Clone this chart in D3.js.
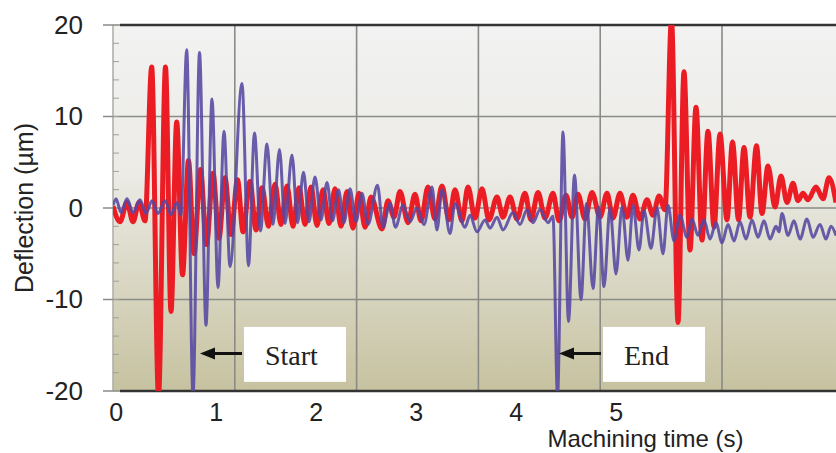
<!DOCTYPE html>
<html>
<head>
<meta charset="utf-8">
<script src="https://cdn.jsdelivr.net/npm/d3@7"></script>
<style>
  html, body { margin: 0; padding: 0; background: #ffffff; }
  svg { display: block; }
</style>
</head>
<body>
<svg id="chart" width="836" height="453"></svg>
<script>
// ---- axis ticks ----
const yTickValues = [-20, -10, 0, 10, 20];
const xTickValues = [0, 1, 2, 3, 4, 5];
const gridDivisions = [0, 1, 2, 3, 4, 5];

// ---- deflection traces: [machining time (s), deflection (µm)] ----
const redTrace = [
  [-0.028, 0.2], [0.042, -1.5], [0.112, 0.6], [0.172, -1.5], [0.232, 0.6], [0.292, -1.4],
  [0.359, 15.4], [0.427, -20.6], [0.497, 15.4], [0.552, -11.3], [0.609, 9.4], [0.667, -7.3],
  [0.727, 5.2], [0.782, -5.0], [0.847, 4.2], [0.907, -4.0], [0.972, 3.8], [1.032, -3.3],
  [1.092, 3.3], [1.152, -2.9], [1.217, 3.1], [1.272, -2.6], [1.342, 2.9], [1.402, -2.4],
  [1.462, 2.2], [1.527, -2.0], [1.592, 2.6], [1.652, -1.8], [1.712, 2.4], [1.772, -2.0],
  [1.832, 2.2], [1.892, -1.8], [1.952, 2.3], [2.012, -1.9], [2.072, 2.0], [2.132, -1.7],
  [2.192, 2.1], [2.252, -2.0], [2.312, 1.8], [2.372, -2.2], [2.432, 1.6], [2.492, -2.1],
  [2.552, 1.2], [2.662, -2.3], [2.722, 0.8], [2.782, -1.0], [2.842, 1.8], [2.922, -1.6],
  [2.992, 1.5], [3.052, -1.4], [3.122, 2.3], [3.192, -1.2], [3.262, 2.4], [3.332, -1.3],
  [3.392, 2.0], [3.462, -1.4], [3.522, 2.3], [3.592, -1.1], [3.662, 2.1], [3.732, -1.3],
  [3.812, 1.2], [3.872, -1.0], [3.942, 1.2], [4.012, -1.2], [4.092, 1.6], [4.152, -1.3],
  [4.222, 1.7], [4.292, -1.1], [4.372, 1.6], [4.432, -1.4], [4.502, 1.4], [4.562, -1.0],
  [4.622, 1.5], [4.692, -1.2], [4.762, 1.7], [4.842, -1.0], [4.912, 1.6], [4.972, -1.1],
  [5.042, 1.6], [5.112, -1.0], [5.172, 1.4], [5.242, -1.2], [5.312, 0.9], [5.372, -0.8],
  [5.432, 1.3], [5.492, -0.2], [5.557, 20.6], [5.622, -12.5], [5.682, 14.9], [5.742, -4.6],
  [5.802, 11.0], [5.862, -3.5], [5.922, 8.4], [5.982, -2.1], [6.042, 8.1], [6.112, -1.3],
  [6.167, 7.2], [6.227, -1.3], [6.282, 6.6], [6.342, -1.0], [6.407, 6.8], [6.462, -0.6],
  [6.522, 4.6], [6.592, 0.1], [6.652, 3.5], [6.712, 0.6], [6.772, 2.7], [6.822, 0.8],
  [6.872, 1.6], [6.922, 0.9], [7.002, 2.3], [7.072, 1.0], [7.132, 3.3], [7.202, 0.6]
];

const blueTrace = [
  [-0.028, 0.3], [0.002, 1.0], [0.052, -0.5], [0.112, 1.0], [0.172, -0.5], [0.242, 0.9],
  [0.302, -0.6], [0.362, 0.8], [0.422, -0.6], [0.492, 0.8], [0.552, -0.7], [0.612, 0.6],
  [0.652, -0.8], [0.709, 17.3], [0.772, -20.6], [0.837, 17.0], [0.902, -12.8], [0.962, 11.9],
  [1.022, -8.7], [1.082, 8.4], [1.142, -6.4], [1.262, 13.6], [1.327, -6.3], [1.387, 8.2],
  [1.447, -2.5], [1.512, 7.0], [1.572, -1.8], [1.637, 6.4], [1.692, -1.7], [1.762, 5.8],
  [1.817, -1.6], [1.877, 3.9], [1.932, -1.5], [1.992, 3.4], [2.052, -1.3], [2.112, 2.8],
  [2.167, -1.4], [2.227, 2.0], [2.282, -1.6], [2.342, 2.1], [2.402, -1.5], [2.462, 1.6],
  [2.522, -1.8], [2.617, 2.5], [2.672, -2.1], [2.742, 0.5], [2.797, -2.1], [2.872, 0.3],
  [2.942, -1.5], [3.012, 0.0], [3.082, -1.8], [3.162, 2.3], [3.212, -2.4], [3.262, 2.0],
  [3.342, -2.8], [3.392, 0.5], [3.492, -2.1], [3.542, -0.8], [3.612, -2.6], [3.692, -1.3],
  [3.742, -2.2], [3.812, -1.0], [3.872, -2.4], [3.972, -0.5], [4.042, -1.8], [4.112, -0.2],
  [4.172, -1.6], [4.242, -0.2], [4.322, -1.6], [4.372, -0.9], [4.417, -20.6], [4.472, 8.3],
  [4.527, -12.4], [4.587, 3.6], [4.652, -10.0], [4.707, 0.5], [4.772, -8.8], [4.827, 0.1],
  [4.882, -8.6], [4.942, 0.0], [5.002, -7.2], [5.062, 0.1], [5.122, -5.7], [5.172, 0.3],
  [5.232, -4.6], [5.282, -0.3], [5.352, -4.4], [5.412, 0.0], [5.472, -5.0], [5.522, 0.3],
  [5.582, -3.6], [5.642, -0.8], [5.712, -3.2], [5.762, -1.2], [5.822, -3.0], [5.882, -1.3],
  [5.942, -3.4], [6.002, -1.6], [6.062, -3.8], [6.122, -1.8], [6.182, -3.6], [6.242, -1.5],
  [6.302, -3.4], [6.362, -1.3], [6.422, -3.2], [6.482, -1.4], [6.542, -3.4], [6.602, -2.0],
  [6.632, -2.6], [6.662, -0.6], [6.722, -3.0], [6.782, -1.4], [6.842, -3.4], [6.912, -1.2],
  [6.972, -3.2], [7.042, -1.8], [7.102, -3.4], [7.152, -2.0], [7.202, -3.0]
];

// ---- event markers (time of the spike they point at) ----
const markers = [
  { label: "Start", time: 0.842 },
  { label: "End", time: 4.432 }
];

// ---- layout ----
const plot = { left: 113, top: 25, right: 836, bottom: 391 };
const svg = d3.select("#chart");

const x = d3.scaleLinear().domain([0, 5]).range([115.8, 615.8]);
const y = d3.scaleLinear().domain([-20, 20]).range([plot.bottom, plot.top]);
const grid = d3.scaleLinear().domain([0, 6]).range([plot.left, plot.left + 6 * 121.8]);

const defs = svg.append("defs");
const bg = defs.append("linearGradient")
  .attr("id", "plotBg").attr("x1", 0).attr("y1", 0).attr("x2", 0).attr("y2", 1);
bg.append("stop").attr("offset", "0%").attr("stop-color", "#f2f2f2");
bg.append("stop").attr("offset", "40%").attr("stop-color", "#ecebe6");
bg.append("stop").attr("offset", "100%").attr("stop-color", "#c6c2a0");

defs.append("clipPath").attr("id", "plotClip")
  .append("rect")
  .attr("x", plot.left).attr("y", plot.top)
  .attr("width", plot.right - plot.left).attr("height", plot.bottom - plot.top);

// plot background
svg.append("rect")
  .attr("x", plot.left).attr("y", plot.top)
  .attr("width", plot.right - plot.left).attr("height", plot.bottom - plot.top)
  .attr("fill", "url(#plotBg)");

// vertical grid lines
svg.append("g").selectAll("line")
  .data(gridDivisions)
  .join("line")
  .attr("x1", d => grid(d)).attr("x2", d => grid(d))
  .attr("y1", plot.top).attr("y2", plot.bottom)
  .attr("stroke", d => d === 0 ? "#b0b0aa" : "#8a8a86")
  .attr("stroke-width", 1.6);

// horizontal grid lines, extended out past the left edge as ticks
svg.append("g").selectAll("line")
  .data(yTickValues)
  .join("line")
  .attr("x1", plot.left - 10).attr("x2", plot.right)
  .attr("y1", d => y(d)).attr("y2", d => y(d))
  .attr("stroke", "#8a8a86")
  .attr("stroke-width", 1.6);

// minor ticks along the inside of the left edge
svg.append("g").selectAll("line")
  .data(y.ticks(20))
  .join("line")
  .attr("x1", plot.left).attr("x2", plot.left + 6)
  .attr("y1", d => y(d)).attr("y2", d => y(d))
  .attr("stroke", "#a0a09a")
  .attr("stroke-width", 1);

// top and bottom frame
svg.append("g").selectAll("line")
  .data(d3.extent(yTickValues))
  .join("line")
  .attr("x1", plot.left + 7).attr("x2", plot.right)
  .attr("y1", d => y(d)).attr("y2", d => y(d))
  .attr("stroke", "#333333")
  .attr("stroke-width", 2.6);

// traces
const line = d3.line()
  .x(d => x(d[0]))
  .y(d => y(d[1]))
  .curve(d3.curveMonotoneX);

const traces = svg.append("g").attr("clip-path", "url(#plotClip)");
traces.append("path")
  .datum(redTrace)
  .attr("d", line)
  .attr("fill", "none")
  .attr("stroke", "#ec1c24")
  .attr("stroke-width", 5)
  .attr("stroke-linejoin", "round");
traces.append("path")
  .datum(blueTrace)
  .attr("d", line)
  .attr("fill", "none")
  .attr("stroke", "#5548a2")
  .attr("stroke-opacity", 0.88)
  .attr("stroke-width", 3)
  .attr("stroke-linejoin", "round");

// y axis labels (plain hyphen for negatives)
const yAxis = svg.append("g")
  .attr("transform", `translate(${plot.left},0)`)
  .call(d3.axisLeft(y).tickValues(yTickValues).tickSize(0).tickPadding(30).tickFormat(d => String(d)));
yAxis.select(".domain").remove();
yAxis.selectAll("text")
  .attr("font-family", "'Liberation Sans', Arial, sans-serif")
  .attr("font-size", 26)
  .attr("fill", "#222");

// x axis labels
const xAxis = svg.append("g")
  .attr("transform", `translate(0,${plot.bottom})`)
  .call(d3.axisBottom(x).tickValues(xTickValues).tickSize(0).tickPadding(12).tickFormat(d => String(d)));
xAxis.select(".domain").remove();
xAxis.selectAll("text")
  .attr("font-family", "'Liberation Sans', Arial, sans-serif")
  .attr("font-size", 25)
  .attr("fill", "#222");

// axis titles
svg.append("text")
  .attr("transform", `translate(33,${y(0)}) rotate(-90)`)
  .attr("text-anchor", "middle")
  .attr("font-family", "'Liberation Sans', Arial, sans-serif")
  .attr("font-size", 25)
  .attr("fill", "#222")
  .text("Deflection (µm)");

svg.append("text")
  .attr("x", 645.5).attr("y", 447)
  .attr("text-anchor", "middle")
  .attr("font-family", "'Liberation Sans', Arial, sans-serif")
  .attr("font-size", 24)
  .attr("fill", "#222")
  .text("Machining time (s)");

// event markers: arrow pointing at the spike plus a labelled box
const arrowY = y(-15.9);
const mk = svg.append("g").selectAll("g")
  .data(markers)
  .join("g");

mk.append("rect")
  .attr("x", d => x(d.time) + 44)
  .attr("y", y(-13))
  .attr("width", 102)
  .attr("height", y(-19) - y(-13))
  .attr("fill", "#ffffff");

mk.append("line")
  .attr("x1", d => x(d.time) + 12)
  .attr("x2", d => x(d.time) + 42)
  .attr("y1", arrowY).attr("y2", arrowY)
  .attr("stroke", "#111")
  .attr("stroke-width", 3);

mk.append("path")
  .attr("d", d => {
    const tx = x(d.time);
    return `M${tx},${arrowY} L${tx + 15},${arrowY - 6} L${tx + 15},${arrowY + 6} Z`;
  })
  .attr("fill", "#111");

mk.append("text")
  .attr("x", d => x(d.time) + 65)
  .attr("y", y(-17.2))
  .attr("font-family", "'Liberation Serif', 'Times New Roman', serif")
  .attr("font-size", 28)
  .attr("fill", "#222")
  .text(d => d.label);
</script>
</body>
</html>
